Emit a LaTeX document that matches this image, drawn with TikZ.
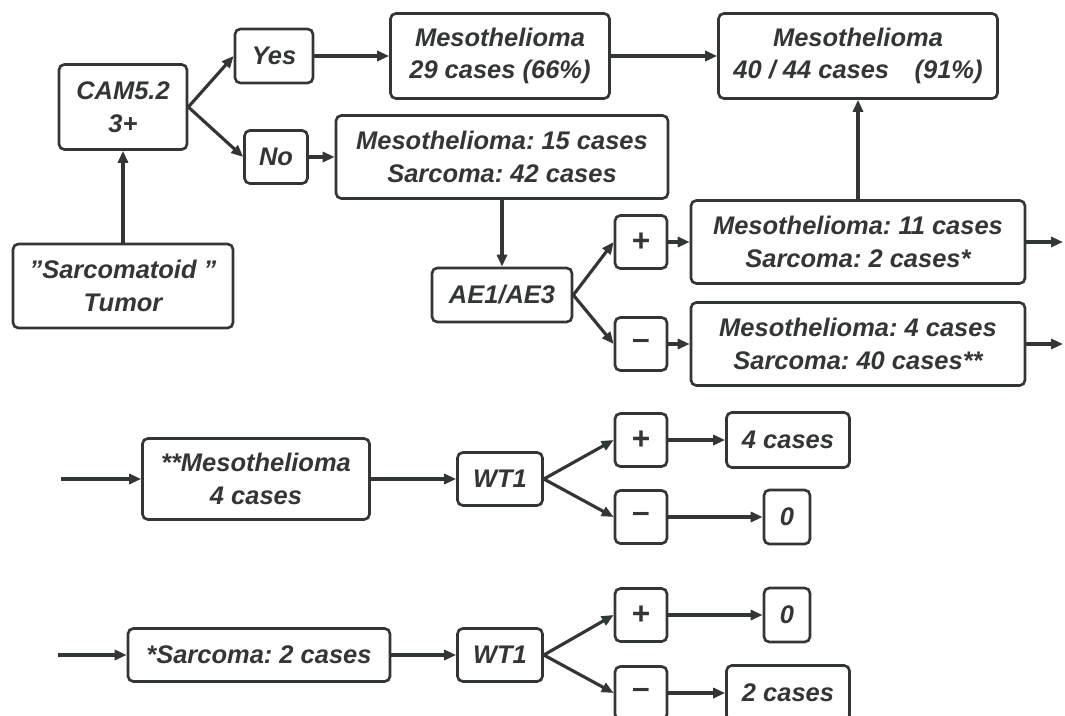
\documentclass[tikz,border=0pt]{standalone}
\usepackage{fontspec}
\setmainfont{Liberation Sans}
\usepackage{tikz}
\usetikzlibrary{arrows.meta}
\frenchspacing
\definecolor{ink}{RGB}{50,54,52}
\tikzset{every picture/.style={color=ink}}
\tikzset{box/.style 2 args={draw, rounded corners=3pt, line width=1.5pt, align=center,
  inner sep=0pt, minimum width=#1cm, minimum height=#2cm,
  font=\bfseries\itshape\fontsize{14.5}{18.5}\selectfont}}
\tikzset{sign/.style={box={1.04}{1.06}, font=\bfseries\fontsize{18}{18}\selectfont}}
\tikzset{arr/.style={line width=1.8pt, -{Triangle[length=2.4mm,width=2mm]}}}

\begin{document}
\begin{tikzpicture}[x=0.02cm, y=-0.02cm]
\useasboundingbox (0,0) rectangle (1065,716);
% first part
\node[box={2.56}{1.70}] (cam) at (123,107) {CAM5.2\\3+};
\node[box={1.56}{1.08}] (yes) at (274,56) {Yes};
\node[box={1.26}{1.06}] (no) at (276,157) {No};
\node[box={4.40}{1.68}] (tumor) at (123,286) {\symbol{34}Sarcomatoid \symbol{34}\\Tumor};
\node[box={4.38}{1.70}] (meso29) at (500,56) {Mesothelioma\\29 cases (66\%)};
\node[box={5.58}{1.70}] (meso91) at (858,56) {Mesothelioma\\40 / 44 cases\quad(91\%)};
\node[box={6.64}{1.66}] (mixA) at (502,157) {Mesothelioma: 15 cases\\Sarcoma: 42 cases};
\node[box={2.80}{1.08}] (ae) at (502,295) {AE1/AE3};
\node[sign] (aepos) at (641,242) {+};
\node[sign] (aeneg) at (641,344) {–};
\node[box={6.68}{1.66}] (pos11) at (858,242) {Mesothelioma: 11 cases\\Sarcoma: 2 cases*};
\node[box={6.68}{1.66}] (neg4) at (858,344) {Mesothelioma: 4 cases\\Sarcoma: 40 cases**};
\coordinate (outA) at (1063,242);
\coordinate (outB) at (1063,344);

\draw[arr] (tumor) -- (cam);
\draw[arr] (cam.east) -- (yes.west);
\draw[arr] (cam.east) -- (no.west);
\draw[arr] (yes) -- (meso29);
\draw[arr] (no) -- (mixA);
\draw[arr] (meso29) -- (meso91);
\draw[arr] (mixA) -- (ae);
\draw[arr] (ae.east) -- (aepos.west);
\draw[arr] (ae.east) -- (aeneg.west);
\draw[arr] (aepos) -- (pos11);
\draw[arr] (aeneg) -- (neg4);
\draw[arr] (pos11) -- (meso91);
\draw[arr] (pos11) -- (outA);
\draw[arr] (neg4) -- (outB);

% WT1 for the ** cases
\coordinate (inA) at (61,479);
\node[box={4.54}{1.62}] (starmeso) at (256,479) {**Mesothelioma\\4 cases};
\node[box={1.70}{1.06}] (wtA) at (500,479) {WT1};
\node[sign] (wtApos) at (641,440) {+};
\node[sign] (wtAneg) at (641,517) {–};
\node[box={2.46}{1.10}] (fourc) at (788,440) {4 cases};
\node[box={0.92}{1.08}] (zeroA) at (787,517) {0};
\draw[arr] (inA) -- (starmeso);
\draw[arr] (starmeso) -- (wtA);
\draw[arr] (wtA.east) -- (wtApos.west);
\draw[arr] (wtA.east) -- (wtAneg.west);
\draw[arr] (wtApos) -- (fourc);
\draw[arr] (wtAneg) -- (zeroA);

% WT1 for the * cases
\coordinate (inB) at (58,655);
\node[box={5.24}{1.06}] (starsarc) at (259,655) {*Sarcoma: 2 cases};
\node[box={1.70}{1.06}] (wtB) at (500,655) {WT1};
\node[sign] (wtBpos) at (641,615) {+};
\node[sign] (wtBneg) at (641,693) {–};
\node[box={0.92}{1.08}] (zeroB) at (787,615) {0};
\node[box={2.46}{1.10}] (twoc) at (788,693) {2 cases};
\draw[arr] (inB) -- (starsarc);
\draw[arr] (starsarc) -- (wtB);
\draw[arr] (wtB.east) -- (wtBpos.west);
\draw[arr] (wtB.east) -- (wtBneg.west);
\draw[arr] (wtBpos) -- (zeroB);
\draw[arr] (wtBneg) -- (twoc);
\end{tikzpicture}
\end{document}
